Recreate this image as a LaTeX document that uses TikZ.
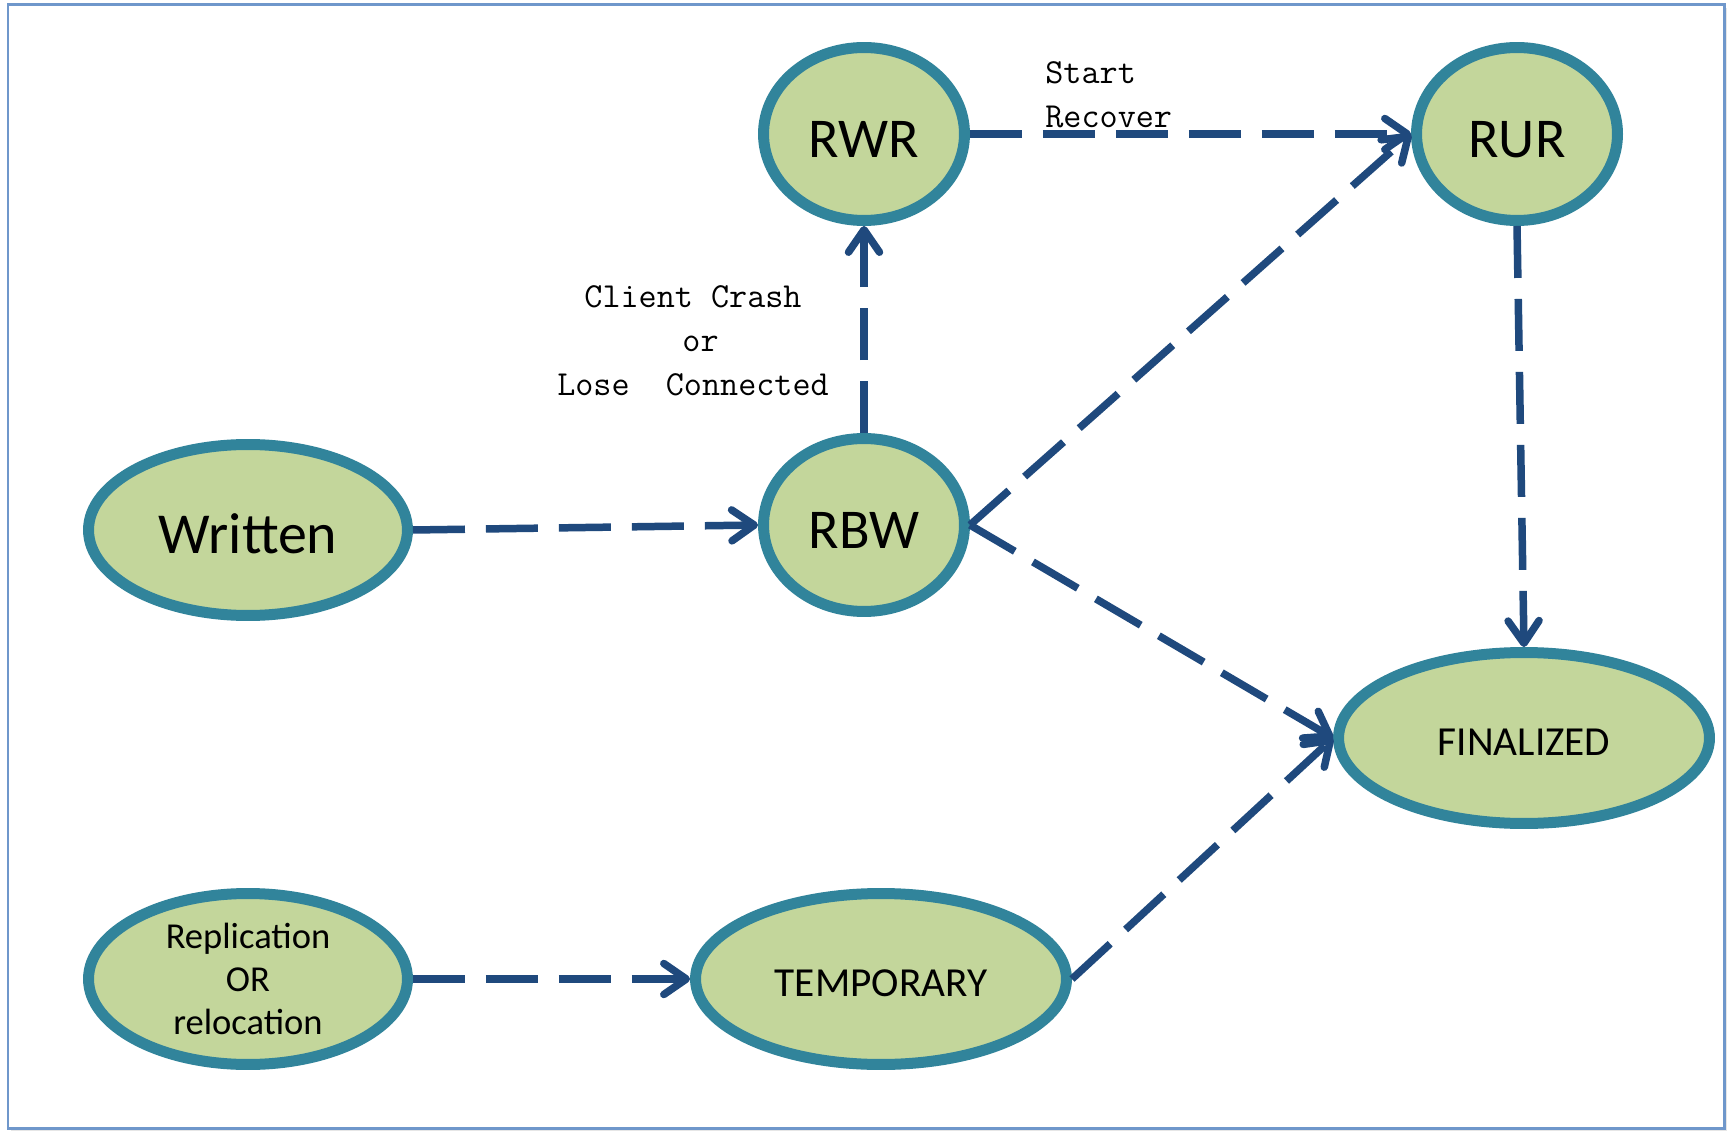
\documentclass[tikz,border=0pt]{standalone}
\usepackage{fontspec}
\setmainfont{Carlito}
\usetikzlibrary{shapes.geometric,arrows.meta,shadows}
\definecolor{stateline}{HTML}{31849B}
\definecolor{statefill}{HTML}{C3D69B}
\definecolor{flowblue}{HTML}{1F497D}
\definecolor{frameblue}{HTML}{6F97CB}

\begin{document}
\begin{tikzpicture}[x=0.02cm,y=-0.02cm,
  state/.style={ellipse,draw=stateline,fill=statefill,line width=0.22cm,inner sep=0pt,
    drop shadow={opacity=0.25,shadow xshift=0.03cm,shadow yshift=-0.07cm}},
  smallstate/.style={state,minimum width=4.02cm,minimum height=3.46cm,text height=0.93cm,font=\fontsize{32}{38}\selectfont},
  widestate/.style={state,minimum width=7.42cm,minimum height=3.42cm,text height=0.71cm,font=\fontsize{23.5}{28}\selectfont},
  flow/.style={draw=flowblue,line width=0.15cm,dash pattern=on 1.04cm off 0.42cm,
    -{Straight Barb[length=0.45cm,width=0.62cm,line cap=round,line join=round]}},
  note/.style={font=\ttfamily\fontsize{20}{25}\selectfont,inner sep=0pt}]
\useasboundingbox (0,0) rectangle (1733,1141);
\draw[frameblue,line width=0.06cm,fill=white,drop shadow={opacity=0.2,shadow xshift=0.06cm,shadow yshift=-0.06cm}]
  (8,5) rectangle (1724,1128);
% states
\node[smallstate] (rwr) at (864,134) {RWR};
\node[smallstate] (rur) at (1517,134) {RUR};
\node[smallstate] (rbw) at (864,525) {RBW};
\node[state,minimum width=6.38cm,minimum height=3.42cm,text height=0.95cm,font=\fontsize{33}{40}\selectfont] (written) at (248,530) {Written};
\node[widestate] (finalized) at (1524,738) {FINALIZED};
\node[widestate] (temporary) at (881,979) {TEMPORARY};
\node[state,minimum width=6.38cm,minimum height=3.42cm,align=center,font=\fontsize{20.8}{24.5}\selectfont] (replication) at (248,979) {Replication\\OR\\relocation};
% transitions
\draw[flow] (written.east) -- (rbw.west);
\draw[flow] (rbw.north) -- (rwr.south);
\draw[flow] (rwr.east) -- (rur.west);
\draw[flow] (rbw.east) -- (rur.west);
\draw[flow] (rbw.east) -- (finalized.west);
\draw[flow] (rur.south) -- (finalized.north);
\draw[flow] (replication.east) -- (temporary.west);
\draw[flow] (temporary.east) -- (finalized.west);
% labels
\node[note,align=center] (crash) at (693,341) {Client Crash\\\hspace*{0.3cm}or\\Lose~~Connected};
\node[note,align=left,anchor=west] (recover) at (1045,95) {Start\\Recover};
\end{tikzpicture}
\end{document}
